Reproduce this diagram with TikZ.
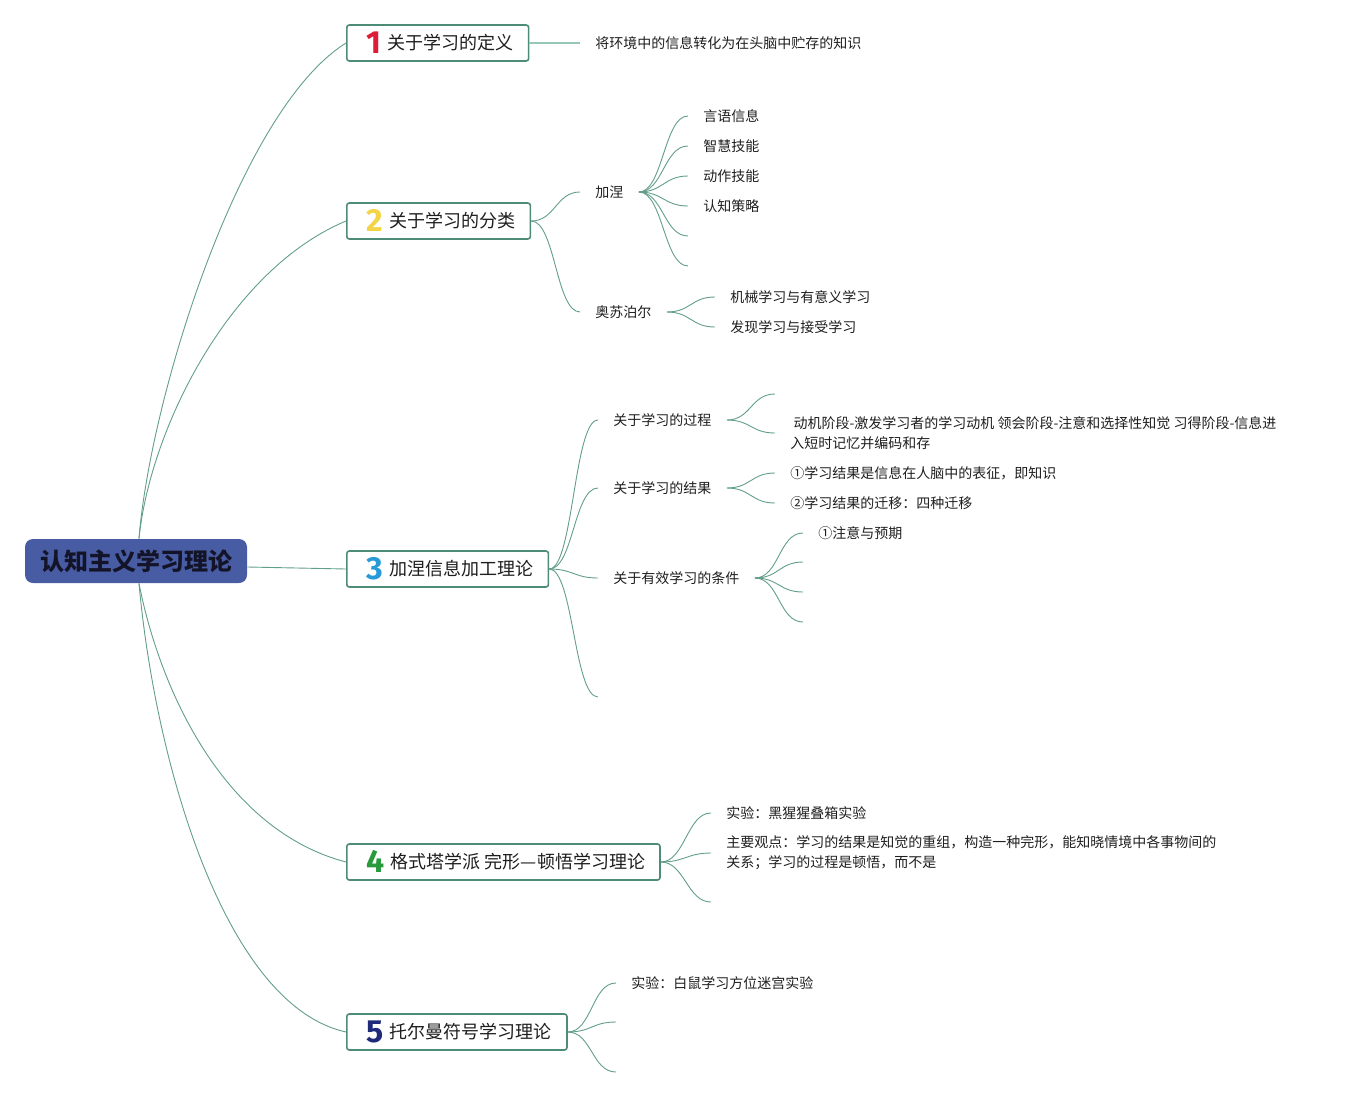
\documentclass[tikz,border=0pt]{standalone}
\usepackage{fontspec}
\setmainfont{Noto Sans CJK SC}
\newfontfamily\numfont{Fira Sans}
\definecolor{lnkc}{RGB}{98,158,138}
\definecolor{lnkl}{RGB}{150,200,185}
\definecolor{boxc}{RGB}{78,140,120}
\definecolor{rootc}{RGB}{72,92,164}
\definecolor{roott}{RGB}{20,20,40}
\definecolor{txtc}{RGB}{30,30,30}
\definecolor{n1}{RGB}{222,30,56}
\definecolor{n2}{RGB}{242,212,70}
\definecolor{n3}{RGB}{40,154,216}
\definecolor{n4}{RGB}{40,154,60}
\definecolor{n5}{RGB}{30,42,122}
\newcommand\tnum[2]{\hspace{5pt}\smash{\raisebox{-4pt}{\numfont\bfseries\fontsize{32}{32}\selectfont\color{#1}#2}}\hspace{6pt}}
\newcommand\fan[2]{\draw[br] (#1) .. controls +(24,0) and +(-24,0) .. (#2);}

\begin{document}
\begin{tikzpicture}[x=1pt,y=-1pt,line width=0.9pt,
  root/.style={fill=rootc,rounded corners=8pt,minimum width=222pt,minimum height=44pt,
    text=roott,font=\bfseries\fontsize{24}{24}\selectfont},
  topic/.style={draw=boxc,line width=1.6pt,rounded corners=2.5pt,fill=white,anchor=west,
    minimum height=36pt,inner xsep=15pt,inner ysep=0pt,text=txtc,font=\fontsize{18}{18}\selectfont},
  leaf/.style={anchor=west,inner xsep=15pt,inner ysep=2pt,align=left,text=txtc,
    font=\fontsize{14}{20}\selectfont},
  br/.style={draw=lnkc}]
\useasboundingbox (0,0) rectangle (1351,1097);
% centre and main topics
\node[root] (root) at (136,561) {认知主义学习理论};
\node[topic] (def) at (346,43) {\tnum{n1}{1}关于学习的定义};
\node[topic] (cls) at (346,221) {\tnum{n2}{2}关于学习的分类};
\node[topic] (proc) at (346,569) {\tnum{n3}{3}加涅信息加工理论};
\node[topic] (gest) at (346,862) {\tnum{n4}{4}格式塔学派 完形—顿悟学习理论};
\node[topic] (tol) at (346,1032) {\tnum{n5}{5}托尔曼符号学习理论};
\draw[br] ([xshift=3pt]root.north) .. controls +(11,-139) and +(-107,67) .. (def.west);
\draw[br] ([xshift=3pt]root.north) .. controls +(11,-109) and +(-117,49) .. (cls.west);
\draw[br] ([yshift=-6pt]root.east) -- (proc.west);
\draw[br] ([xshift=3pt]root.south) .. controls +(21,107) and +(-122,-32) .. (gest.west);
\draw[br] ([xshift=3pt]root.south) .. controls +(16,177) and +(-122,-27) .. (tol.west);
% 1
\node[leaf] (dfn) at (580,43) {将环境中的信息转化为在头脑中贮存的知识};
\draw[lnkl,line width=1.4pt] (def.east) -- (dfn.west);
% 2
\node[leaf] (gagne) at (580,192) {加涅};
\node[leaf] (ausub) at (580,312) {奥苏泊尔};
\fan{cls.east}{gagne.west}
\fan{cls.east}{ausub.west}
\foreach \y/\t [count=\i] in {116/言语信息,146/智慧技能,176/动作技能,206/认知策略}
  \node[leaf] (g\i) at (688,\y) {\t};
\coordinate (g5) at (688,236);
\coordinate (g6) at (688,266);
\foreach \n in {g1.west,g2.west,g3.west,g4.west,g5,g6}
  {\fan{gagne.east}{\n}}
\node[leaf] (a1) at (715,297) {机械学习与有意义学习};
\node[leaf] (a2) at (715,327) {发现学习与接受学习};
\fan{ausub.east}{a1.west}
\fan{ausub.east}{a2.west}
% 3
\node[leaf] (pr) at (598,420) {关于学习的过程};
\node[leaf] (rs) at (598,488) {关于学习的结果};
\node[leaf] (cd) at (598,578) {关于有效学习的条件};
\coordinate (p4) at (598,697);
\foreach \n in {pr.west,rs.west,cd.west,p4}
  {\fan{proc.east}{\n}}
\coordinate (pr1) at (775,394);
\node[leaf] (pr2) at (775,433) {\ 动机阶段-激发学习者的学习动机 领会阶段-注意和选择性知觉 习得阶段-信息进\\入短时记忆并编码和存};
\fan{pr.east}{pr1}
\fan{pr.east}{pr2.west}
\node[leaf] (rs1) at (775,473) {①学习结果是信息在人脑中的表征，即知识};
\node[leaf] (rs2) at (775,503) {②学习结果的迁移：四种迁移};
\fan{rs.east}{rs1.west}
\fan{rs.east}{rs2.west}
\node[leaf] (cd1) at (803,533) {①注意与预期};
\coordinate (cd2) at (803,562);
\coordinate (cd3) at (803,592);
\coordinate (cd4) at (803,622);
\foreach \n in {cd1.west,cd2,cd3,cd4}
  {\fan{cd.east}{\n}}
% 4
\node[leaf] (ge1) at (711,813) {实验：黑猩猩叠箱实验};
\node[leaf] (ge2) at (711,853) {主要观点：学习的结果是知觉的重组，构造一种完形，能知晓情境中各事物间的\\关系；学习的过程是顿悟，而不是};
\coordinate (ge3) at (711,902);
\foreach \n in {ge1.west,ge2.west,ge3}
  {\fan{gest.east}{\n}}
% 5
\node[leaf] (to1) at (616,983) {实验：白鼠学习方位迷宫实验};
\coordinate (to2) at (616,1022);
\coordinate (to3) at (616,1072);
\foreach \n in {to1.west,to2,to3}
  {\fan{tol.east}{\n}}
\end{tikzpicture}
\end{document}
